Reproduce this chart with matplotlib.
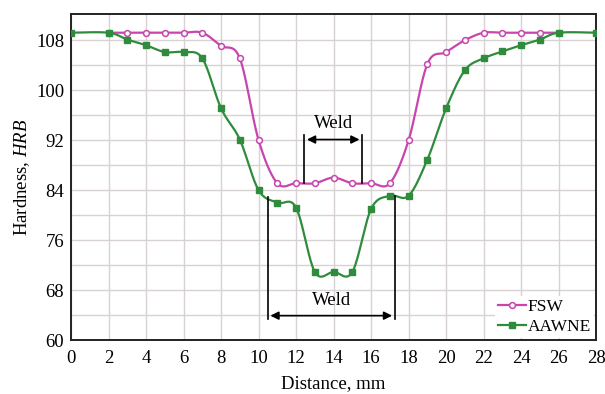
import numpy as np
import matplotlib
matplotlib.use("Agg")
import matplotlib.pyplot as plt

plt.rcParams['font.family'] = ['Liberation Serif', 'DejaVu Serif']
plt.rcParams['mathtext.fontset'] = 'custom'
plt.rcParams['mathtext.rm'] = 'Liberation Serif'
plt.rcParams['mathtext.it'] = 'Liberation Serif:italic'

# data
fsw_x = [2, 3, 4, 5, 6, 7, 8, 9, 10, 11, 12, 13, 14, 15, 16, 17, 18, 19, 20, 21, 22, 23, 24, 25, 26]
fsw_y = [109.2, 109.2, 109.2, 109.2, 109.2, 109.2, 107.1, 105.1, 92.0, 85.1, 85.1, 85.1, 86.0,
         85.1, 85.1, 85.1, 92.0, 104.2, 106.1, 108.0, 109.2, 109.2, 109.2, 109.2, 109.2]

aawne_x = [0, 2, 3, 4, 5, 6, 7, 8, 9, 10, 11, 12, 13, 14, 15, 16, 17, 18, 19, 20, 21, 22, 23, 24, 25, 26, 28]
aawne_y = [109.2, 109.2, 108.1, 107.2, 106.1, 106.1, 105.1, 97.1, 92.1, 84.0, 82.0, 81.2, 70.9, 70.9,
           70.9, 81.0, 83.1, 83.1, 88.9, 97.1, 103.2, 105.1, 106.2, 107.2, 108.1, 109.2, 109.2]

x_ticks = list(range(0, 29, 2))
y_ticks = [60, 68, 76, 84, 92, 100, 108]

pink = '#C845AE'
green = '#2E8C3C'


def smooth(x, y, n=20):
    # bezier smoothing through the points, like a spreadsheet "smoothed line"
    x = np.asarray(x, float)
    y = np.asarray(y, float)
    px = np.concatenate([[x[0]], x, [x[-1]]])
    py = np.concatenate([[y[0]], y, [y[-1]]])
    xs, ys = [], []
    t = np.linspace(0, 1, n)
    for i in range(1, len(px) - 2):
        for arr, out in ((px, xs), (py, ys)):
            p0, p1, p2, p3 = arr[i - 1], arr[i], arr[i + 1], arr[i + 2]
            b1 = p1 + (p2 - p0) / 6
            b2 = p2 - (p3 - p1) / 6
            out.extend((1 - t) ** 3 * p1 + 3 * (1 - t) ** 2 * t * b1 + 3 * (1 - t) * t ** 2 * b2 + t ** 3 * p2)
    return np.array(xs), np.array(ys)


fig = plt.figure(figsize=(6.05, 3.94), dpi=100)
ax = fig.add_axes([0.1174, 0.137, 0.868, 0.8275])

sx, sy = smooth(fsw_x, fsw_y)
ax.plot(sx, sy, color=pink, lw=1.6, zorder=3)
ax.plot(fsw_x, fsw_y, ls='none', marker='o', ms=4.2, mfc='white', mec=pink, mew=1.1, zorder=4)

sx, sy = smooth(aawne_x, aawne_y)
ax.plot(sx, sy, color=green, lw=1.6, zorder=5)
ax.plot(aawne_x, aawne_y, ls='none', marker='s', ms=4.2, color=green, zorder=6)

# legend proxies
ax.plot([], [], color=pink, lw=1.6, marker='o', ms=4.2, mfc='white', mec=pink, mew=1.1, label='FSW')
ax.plot([], [], color=green, lw=1.6, marker='s', ms=4.2, label='AAWNE')
leg = ax.legend(loc='lower right', frameon=True, fancybox=False, edgecolor='none', framealpha=1,
                fontsize=12.5, handlelength=1.6, handletextpad=0.1, borderpad=0.2, labelspacing=0.2,
                borderaxespad=0.1)

# weld annotations
ax.plot([12.43, 12.43], [92.8, 85.1], color='black', lw=1.2, zorder=7)
ax.plot([15.53, 15.53], [92.8, 85.1], color='black', lw=1.2, zorder=7)
ax.annotate('', xy=(12.43, 92.1), xytext=(15.53, 92.1),
            arrowprops=dict(arrowstyle='<|-|>', color='black', lw=1.2, mutation_scale=12), zorder=7)
ax.text(13.98, 93.3, 'Weld', ha='center', va='bottom', fontsize=13.5)

ax.plot([10.48, 10.48], [82.9, 63.3], color='black', lw=1.2, zorder=7)
ax.plot([17.27, 17.27], [83.1, 63.3], color='black', lw=1.2, zorder=7)
ax.annotate('', xy=(10.48, 63.9), xytext=(17.27, 63.9),
            arrowprops=dict(arrowstyle='<|-|>', color='black', lw=1.2, mutation_scale=12), zorder=7)
ax.text(13.9, 65.0, 'Weld', ha='center', va='bottom', fontsize=13.5)

ax.set_xlim(0, 28)
ax.set_ylim(60, 112.2)
ax.set_xticks(x_ticks)
ax.set_yticks(y_ticks)
ax.set_yticks(np.arange(64, 112, 8), minor=True)
ax.grid(True, which='both', color='#d9d2d2', lw=1.0, zorder=0)
ax.set_axisbelow(True)
ax.tick_params(which='both', length=0, labelsize=13.5)
ax.tick_params(axis='x', pad=7)
ax.tick_params(axis='y', pad=5)
for s in ax.spines.values():
    s.set_linewidth(1.4)
    s.set_color('#222222')

ax.set_xlabel('Distance, mm', fontsize=13.5, labelpad=6)
ax.set_ylabel('Hardness, $\\mathit{HRB}$', fontsize=13.5, labelpad=3)

fig.savefig('out.png', dpi=100)
